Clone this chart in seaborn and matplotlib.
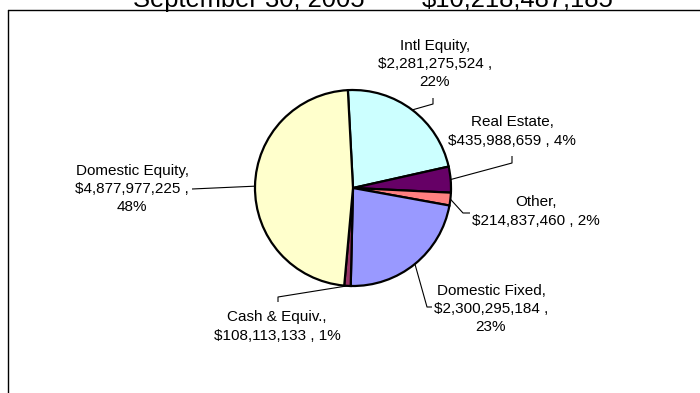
import numpy as np
import matplotlib
matplotlib.use("Agg")
import matplotlib.pyplot as plt
import seaborn as sns

# Portfolio allocation, September 30, 2005
categories = ["Intl Equity", "Real Estate", "Other", "Domestic Fixed",
              "Cash & Equiv.", "Domestic Equity"]
values = [2281275524, 435988659, 214837460, 2300295184, 108113133, 4877977225]
total_label = "$10,218,487,185"
date_label = "September 30, 2005"

sns.set_theme(style="white")
plt.rcParams["font.family"] = ["Liberation Sans", "DejaVu Sans"]

colors = sns.color_palette(["#CCFFFF", "#660066", "#FF8080", "#9999FF",
                            "#993366", "#FFFFCC"])

W, H = 700, 393
fig = plt.figure(figsize=(W / 100, H / 100), dpi=100)
ax = fig.add_axes([0, 0, 1, 1])


def py(y):
    """Convert a top-down pixel row into the upward data axis."""
    return H - y


cx, cy, r = 353, py(188), 98
wedges, _ = ax.pie(values, colors=colors, startangle=93, counterclock=False,
                   center=(cx, cy), radius=r,
                   wedgeprops=dict(edgecolor="black", linewidth=1.6))
ax.set_xlim(0, W)
ax.set_ylim(0, H)
ax.set_aspect("equal")
ax.axis("off")

total = sum(values)
pcts = [int(round(v / total * 100)) for v in values]

# label layout: text centre, elbow points of leader line, line-break style
layout = {
    "Intl Equity":     dict(xy=(435, 64),  knee=[(433, 104), (433, 98)], split=True),
    "Real Estate":     dict(xy=(512, 131.5), knee=[(512, 163), (512, 156)], split=False),
    "Other":           dict(xy=(536, 211.5), knee=[(463, 213), (470, 213)], split=False),
    "Domestic Fixed":  dict(xy=(491, 309), knee=[(427, 307), (432, 307)], split=True),
    "Cash & Equiv.":   dict(xy=(277, 326.5), knee=[(278, 297), (278, 302)], split=False),
    "Domestic Equity": dict(xy=(132, 189), knee=[(192, 189)], split=True),
}

for w, name, v, p in zip(wedges, categories, values, pcts):
    lay = layout[name]
    if lay["split"]:
        txt = f"{name},\n${v:,} ,\n{p}%"
    else:
        txt = f"{name},\n${v:,} , {p}%"
    ax.text(lay["xy"][0], py(lay["xy"][1]), txt, ha="center", va="center",
            fontsize=11, color="black", linespacing=1.37, multialignment="center")
    mid = np.deg2rad((w.theta1 + w.theta2) / 2)
    ex, ey = cx + r * np.cos(mid), cy + r * np.sin(mid)
    xs = [ex] + [k[0] for k in lay["knee"]]
    ys = [ey] + [py(k[1]) for k in lay["knee"]]
    ax.plot(xs, ys, color="black", linewidth=0.8, solid_capstyle="butt")

# chart frame (extends past the right and bottom edges)
ax.plot([8, W + 5], [py(10), py(10)], color="black", linewidth=1.0)
ax.plot([8, 8], [py(10), -5], color="black", linewidth=1.0)

# heading, partly clipped at the top edge
ax.text(133, py(7), date_label, ha="left", va="baseline", fontsize=18.4, color="black")
ax.text(422, py(7), total_label, ha="left", va="baseline", fontsize=18.4, color="black")

fig.savefig("out.png", dpi=100)
